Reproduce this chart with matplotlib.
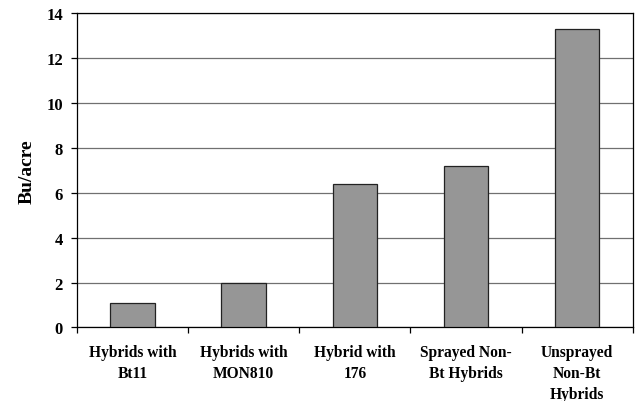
import numpy as np
import matplotlib.pyplot as plt

# values
categories = ["Hybrids with\nBt11", "Hybrids with\nMON810", "Hybrid with\n176",
              "Sprayed Non-\nBt Hybrids", "Unsprayed\nNon-Bt\nHybrids"]
yield_loss = [1.1, 2.0, 6.4, 7.2, 13.3]
y_ticks = [0, 2, 4, 6, 8, 10, 12, 14]

plt.rcParams['font.family'] = ['Liberation Serif', 'DejaVu Serif']
plt.rcParams['font.weight'] = 'bold'

fig = plt.figure(figsize=(6.36, 4.02), dpi=100)
ax = fig.add_axes([0.121, 0.183, 0.874, 0.781])

x = np.arange(len(categories))
ax.bar(x, yield_loss, width=0.4, color='#969696', edgecolor='#222222', linewidth=0.9, zorder=3)

ax.set_xlim(-0.5, len(categories) - 0.5)
ax.set_ylim(0, 14)
ax.set_yticks(y_ticks)
ax.yaxis.grid(True, color='#707070', linewidth=0.9, zorder=0)
ax.set_axisbelow(True)

# category labels centred, tick marks between categories
ax.set_xticks(x)
ax.set_xticklabels(categories, fontsize=11.2, fontweight='bold', linespacing=1.42)
ax.tick_params(axis='x', which='major', length=0, pad=12)
ax.set_xticks(np.arange(-0.5, len(categories)), minor=True)
ax.tick_params(axis='x', which='minor', direction='out', length=4, width=0.9)
ax.tick_params(axis='y', direction='out', length=4, width=0.9, labelsize=12, pad=6)

ax.set_ylabel("Bu/acre", fontsize=14, fontweight='bold', labelpad=8)

for s in ax.spines.values():
    s.set_linewidth(0.9)
    s.set_color('black')

fig.savefig("out.png", dpi=100)
